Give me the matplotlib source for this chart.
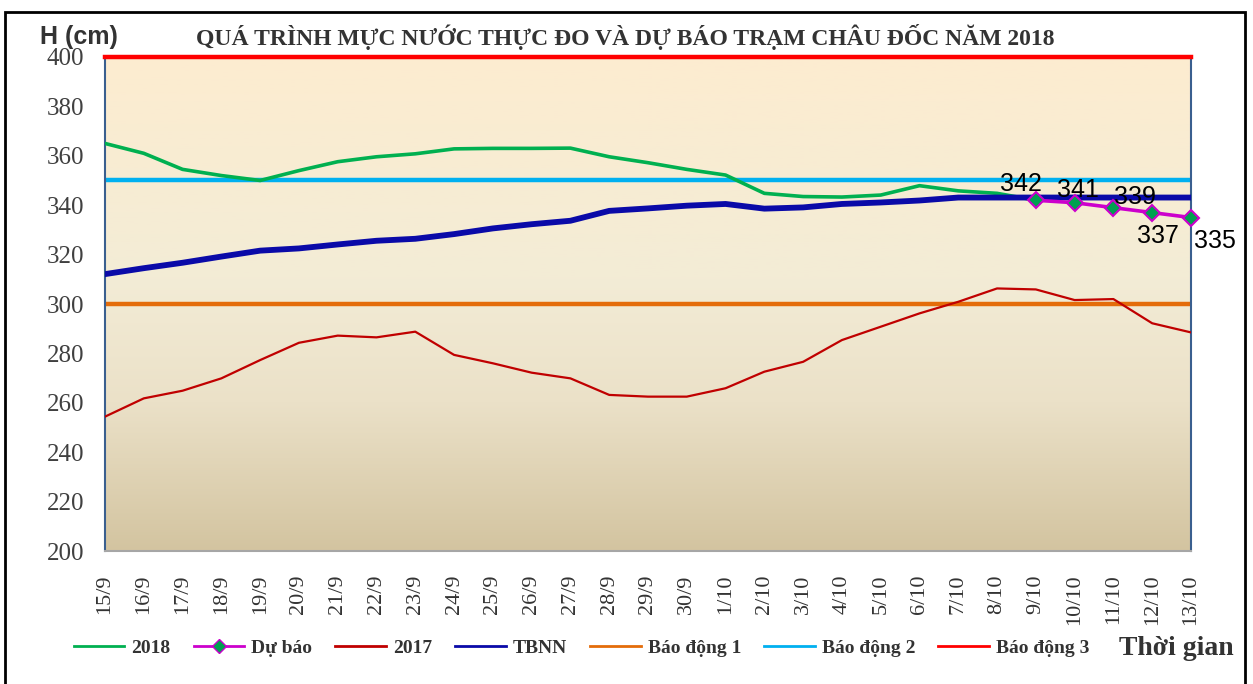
import numpy as np
import matplotlib
matplotlib.use("Agg")
from matplotlib import pyplot as plt
from matplotlib.lines import Line2D
from matplotlib.patches import Rectangle

# Ngay quan trac
dates = ["15/9", "16/9", "17/9", "18/9", "19/9", "20/9", "21/9", "22/9",
         "23/9", "24/9", "25/9", "26/9", "27/9", "28/9", "29/9", "30/9",
         "1/10", "2/10", "3/10", "4/10", "5/10", "6/10", "7/10", "8/10",
         "9/10", "10/10", "11/10", "12/10", "13/10"]

# Muc nuoc (cm)
h2018 = [365, 361, 354.5, 352, 350, 354, 357.6, 359.6, 360.8, 362.8, 363, 363,
         363.1, 359.6, 357.2, 354.5, 352.2, 344.8, 343.5, 343.3, 344.1, 347.9,
         345.8, 344.8, 342]
du_bao = [342, 341, 339, 337, 335]
h2017 = [254.4, 261.8, 264.9, 269.9, 277.3, 284.3, 287.2, 286.5, 288.8, 279.4,
         276, 272.2, 269.9, 263.2, 262.5, 262.5, 265.9, 272.6, 276.6, 285.4,
         290.8, 296.2, 300.9, 306.3, 305.9, 301.6, 302, 292.2, 288.5]
tbnn = [312.1, 314.5, 316.7, 319.2, 321.6, 322.5, 324.1, 325.6, 326.4, 328.3,
        330.6, 332.3, 333.7, 337.7, 338.7, 339.8, 340.5, 338.6, 339.1, 340.5,
        341.1, 341.9, 343.1, 343.1, 343.1, 343.1, 343.1, 343.1, 343.1]
bao_dong_1 = 300
bao_dong_2 = 350
bao_dong_3 = 400

serif = ["Liberation Serif", "DejaVu Serif"]
sans = ["Liberation Sans", "DejaVu Sans"]

x = np.arange(len(dates))
x_fc = x[len(h2018) - 1:]

fig = plt.figure(figsize=(12.53, 6.84), dpi=100)
ax = fig.add_axes([0.0838, 0.1944, 0.8667, 0.7223])

# nen gradient
stops = np.array([0.0, 0.45, 0.7, 1.0])
cols = np.array([[253, 236, 208], [243, 236, 214], [235, 225, 200], [211, 196, 160]]) / 255.0
t = np.linspace(0, 1, 256)
grad = np.stack([np.interp(t, stops, cols[:, i]) for i in range(3)], axis=-1)[:, None, :]
ax.imshow(grad, extent=[0, len(dates) - 1, 200, 400], aspect="auto", zorder=0,
          origin="upper")

ax.axhline(bao_dong_1, color="#E46C0A", lw=3.2, zorder=2)
ax.axhline(bao_dong_2, color="#00B0F0", lw=3.2, zorder=2)
ax.axhline(bao_dong_3, color="#FF0000", lw=3.2, zorder=5, clip_on=False)

ax.plot(x, h2017, color="#C00000", lw=1.6, zorder=3)
ax.plot(x[:len(h2018)], h2018, color="#00B050", lw=2.6, zorder=3)
ax.plot(x, tbnn, color="#0A0AA8", lw=4.2, zorder=4)
ax.plot(x_fc, du_bao, color="#CC00CC", lw=2.6, marker="D", ms=8.5,
        mfc="#00A050", mec="#CC00CC", mew=1.5, zorder=6, clip_on=False)

offsets = [(-15, 16), (3, 13), (22, 11), (6, -23), (24, -23)]
for xi, v, off in zip(x_fc, du_bao, offsets):
    ax.annotate(str(v), (xi, v), xytext=off, textcoords="offset pixels",
                ha="center", va="center", fontsize=18, family=sans,
                color="black", zorder=7, annotation_clip=False)

ax.set_xlim(0, len(dates) - 1)
ax.set_ylim(200, 400)
ax.set_yticks(range(200, 401, 20))
ax.set_xticks(x)
ax.set_xticklabels(dates, rotation=90, family=serif, fontsize=16, color="#333333")
for lab in ax.get_yticklabels():
    lab.set_family(serif)
    lab.set_fontsize(18)
    lab.set_color("#404040")
ax.tick_params(axis="y", length=0, pad=15)
ax.tick_params(axis="x", length=0, pad=17)

for side in ["left", "right"]:
    ax.spines[side].set_color("#3A5F8F")
    ax.spines[side].set_linewidth(1.5)
ax.spines["bottom"].set_color("#A6A6A6")
ax.spines["bottom"].set_linewidth(1.5)
ax.spines["top"].set_visible(False)

fig.text(0.032, 0.946, "H (cm)", family=sans, fontsize=18, fontweight="bold",
         color="#333333", va="center", ha="left")
fig.text(0.499, 0.946, "QUÁ TRÌNH MỰC NƯỚC THỰC ĐO VÀ DỰ BÁO TRẠM CHÂU ĐỐC NĂM 2018",
         family=serif, fontsize=17, fontweight="bold", color="#333333",
         va="center", ha="center")

handles = [
    Line2D([], [], color="#00B050", lw=2),
    Line2D([], [], color="#CC00CC", lw=2, marker="D", ms=7, mfc="#00A050", mec="#CC00CC"),
    Line2D([], [], color="#C00000", lw=2),
    Line2D([], [], color="#0A0AA8", lw=2),
    Line2D([], [], color="#E46C0A", lw=2),
    Line2D([], [], color="#00B0F0", lw=2),
    Line2D([], [], color="#FF0000", lw=2),
]
labels = ["2018", "Dự báo", "2017", "TBNN", "Báo động 1", "Báo động 2", "Báo động 3"]
leg = fig.legend(handles, labels, loc="center left", bbox_to_anchor=(0.045, 0.052),
                 ncol=7, frameon=False, handlelength=2.6, handletextpad=0.35,
                 columnspacing=1.2, prop={"family": serif, "weight": "bold", "size": 14})
for txt in leg.get_texts():
    txt.set_color("#333333")

fig.text(0.893, 0.052, "Thời gian", family=serif, fontsize=20, fontweight="bold",
         color="#333333", va="center", ha="left")

fig.patches.append(Rectangle((0.004, -0.05), 0.990, 1.032, transform=fig.transFigure,
                             fill=False, edgecolor="black", lw=2, zorder=10))

fig.savefig("out.png", dpi=100)
